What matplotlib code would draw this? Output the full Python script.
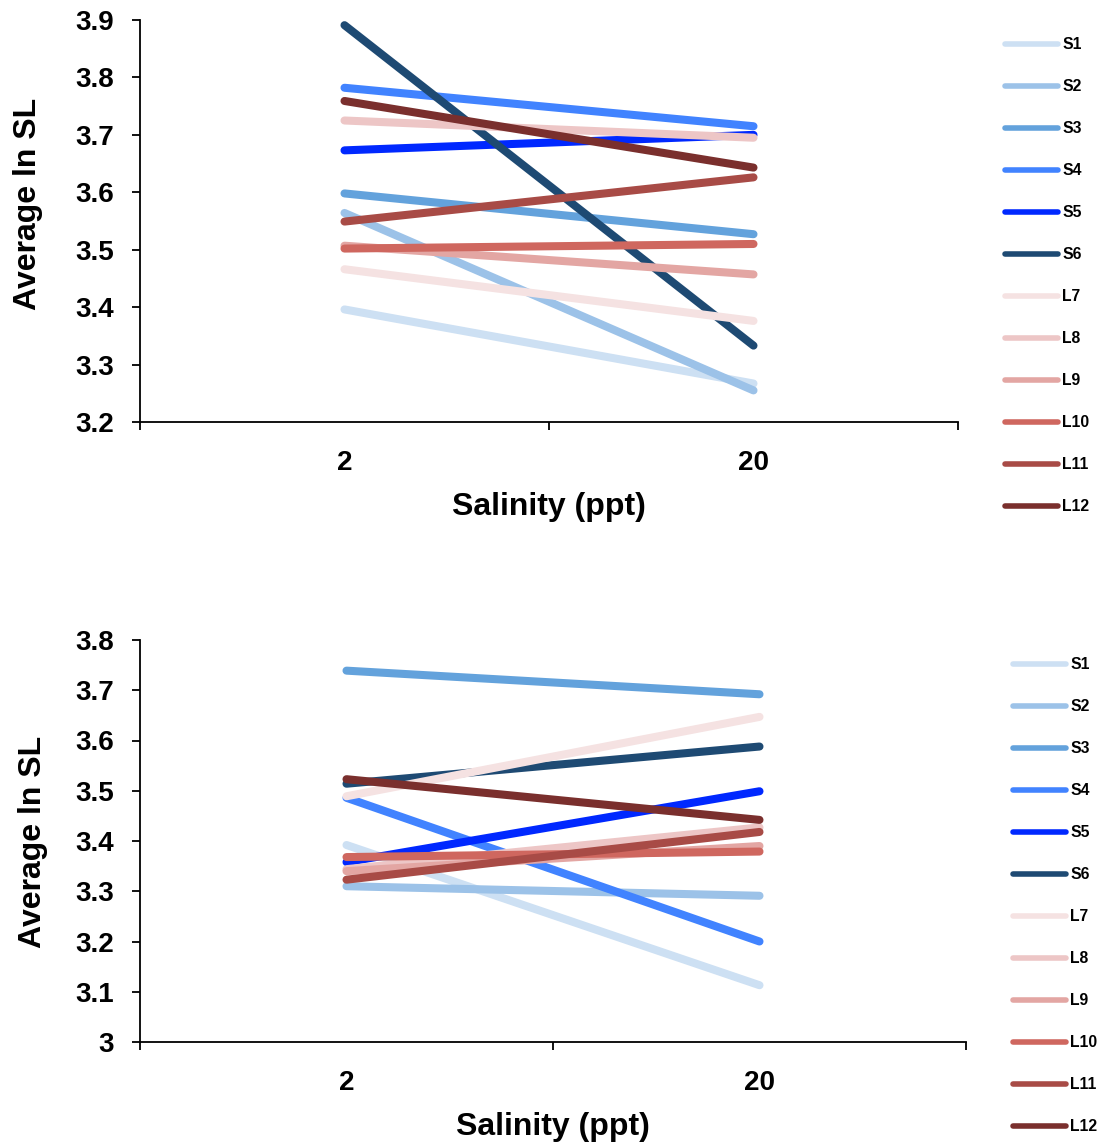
import matplotlib
matplotlib.use("Agg")
import matplotlib.pyplot as plt

plt.rcParams['font.family'] = ['Liberation Sans', 'DejaVu Sans']
plt.rcParams['font.weight'] = 'bold'

salinity = ["2", "20"]
series = ["S1", "S2", "S3", "S4", "S5", "S6", "L7", "L8", "L9", "L10", "L11", "L12"]
colors = ["#cde0f3", "#9cc2e8", "#63a2dc", "#4183ff", "#0028ff", "#1e4a73",
          "#f5e2e2", "#edc6c6", "#e3a6a3", "#cf675f", "#a84b46", "#7a2f2d"]

top_2 = [3.396, 3.564, 3.598, 3.782, 3.673, 3.891, 3.466, 3.725, 3.507, 3.502, 3.549, 3.759]
top_20 = [3.267, 3.255, 3.527, 3.715, 3.700, 3.333, 3.376, 3.695, 3.457, 3.510, 3.626, 3.643]

bot_2 = [3.392, 3.310, 3.739, 3.486, 3.358, 3.514, 3.489, 3.344, 3.340, 3.368, 3.323, 3.523]
bot_20 = [3.113, 3.291, 3.692, 3.200, 3.499, 3.588, 3.647, 3.427, 3.390, 3.379, 3.418, 3.442]

W, H = 1102, 1145
fig = plt.figure(figsize=(W / 100, H / 100), dpi=100)

def make_axes(rect_px, v2, v20, ylim, yticks, yticklabels, legend_px, ylabel_y, ylabelpad):
    l, t, r, b = rect_px
    ax = fig.add_axes([l / W, 1 - b / H, (r - l) / W, (b - t) / H])
    xs = [1, 2]
    for name, c, a, z in zip(series, colors, v2, v20):
        ax.plot(xs, [a, z], color=c, lw=5.8, solid_capstyle='round', label=name)
    ax.set_xlim(0.5, 2.5)
    ax.set_ylim(*ylim)
    ax.set_yticks(yticks)
    ax.set_yticklabels(yticklabels)
    ax.set_xticks([1, 2])
    ax.set_xticklabels(salinity)
    ax.set_xticks([0.5, 1.5, 2.5], minor=True)
    ax.tick_params(axis='x', which='major', length=0, pad=20, labelsize=20)
    ax.tick_params(axis='x', which='minor', length=6, width=1.3, direction='out')
    ax.tick_params(axis='y', length=6, width=1.3, direction='out', pad=13, labelsize=20)
    for s in ['top', 'right']:
        ax.spines[s].set_visible(False)
    for s in ['left', 'bottom']:
        ax.spines[s].set_linewidth(1.3)
    ax.set_xlabel("Salinity (ppt)", fontsize=23, fontweight='bold', labelpad=12)
    ax.set_ylabel("Average ln SL", fontsize=23, fontweight='bold', labelpad=ylabelpad)
    ax.yaxis.label.set_y(ylabel_y)
    lx, ly = legend_px
    leg = ax.legend(loc='upper left', bbox_to_anchor=(lx / W, 1 - ly / H),
                    bbox_transform=fig.transFigure, frameon=False,
                    fontsize=11.3, handlelength=3.4, handletextpad=0.25,
                    labelspacing=1.723, borderaxespad=0, borderpad=0)
    for line in leg.get_lines():
        line.set_linewidth(4)
        line.set_solid_capstyle('round')
    for txt in leg.get_texts():
        txt.set_fontweight('bold')
    return ax

make_axes((140, 20, 958, 422), top_2, top_20, (3.2, 3.9),
          [3.2, 3.3, 3.4, 3.5, 3.6, 3.7, 3.8, 3.9],
          ["3.2", "3.3", "3.4", "3.5", "3.6", "3.7", "3.8", "3.9"],
          (1005, 37), 0.5423, 23)
make_axes((140, 640, 966, 1042), bot_2, bot_20, (3.0, 3.8),
          [3.0, 3.1, 3.2, 3.3, 3.4, 3.5, 3.6, 3.7, 3.8],
          ["3", "3.1", "3.2", "3.3", "3.4", "3.5", "3.6", "3.7", "3.8"],
          (1013, 657), 0.4975, 19)

fig.savefig("out.png", dpi=100)
